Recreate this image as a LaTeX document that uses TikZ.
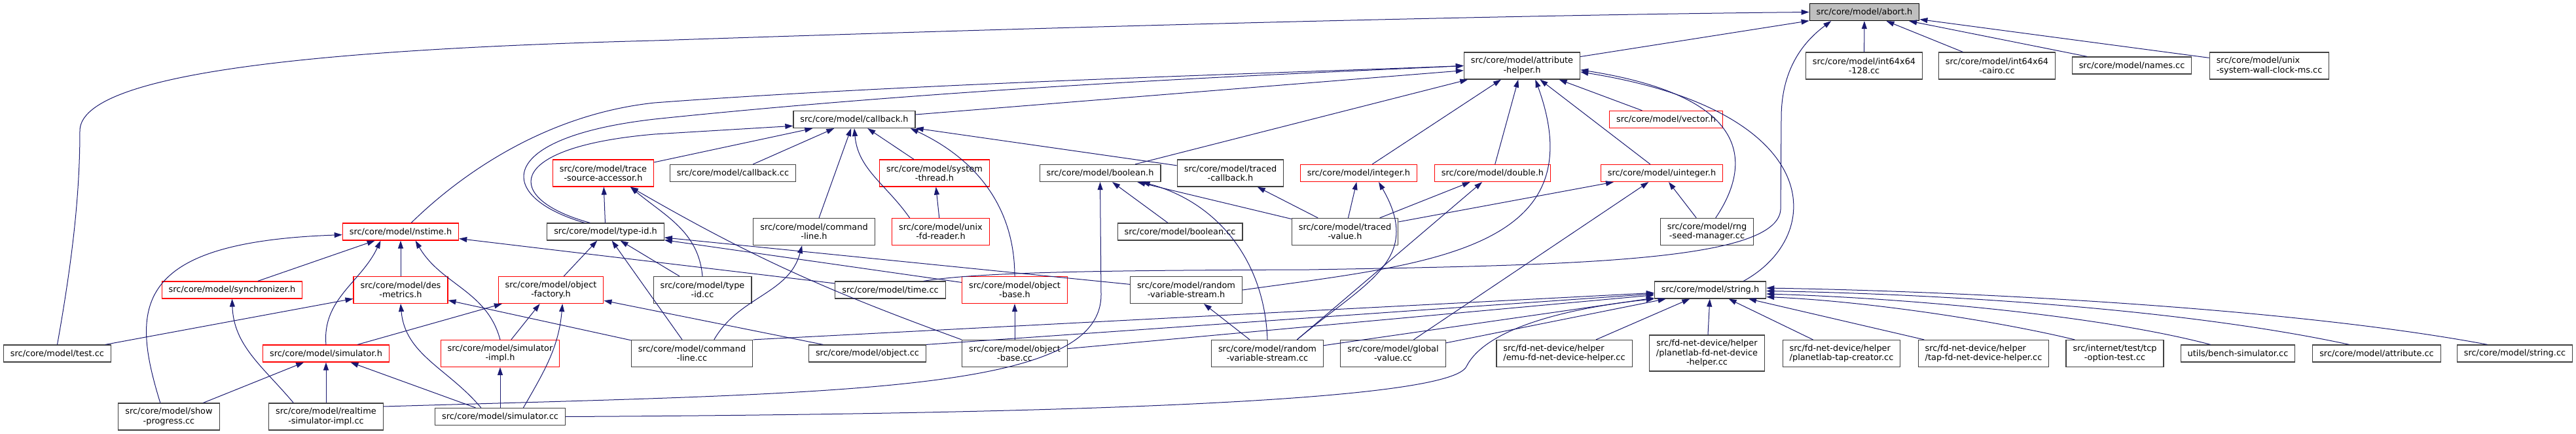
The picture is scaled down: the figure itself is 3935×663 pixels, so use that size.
\documentclass[tikz,border=0pt]{standalone}
\usepackage{fontspec}
\setmainfont{DejaVu Sans}
\usetikzlibrary{arrows.meta}
\definecolor{bleunuit}{HTML}{191970}
\definecolor{rouge}{HTML}{FF0000}
\definecolor{grisclair}{HTML}{BFBFBF}
\definecolor{grisfonce}{HTML}{404040}
\tikzset{
  fichier/.style={draw=grisfonce,line width=1.2pt,fill=white,align=center,
                  font=\fontsize{12.9}{14.3}\selectfont,inner xsep=10.5pt,inner ysep=0pt,minimum height=26pt},
  fleche/.style={-{Triangle[length=12pt,width=8pt]},line width=1pt,color=bleunuit},
}

\begin{document}
\begin{tikzpicture}[x=1pt,y=1pt,
  deux/.style={fichier,minimum height=41pt},
  trois/.style={fichier,minimum height=55pt},
  tronque/.style={draw=rouge},
  gauche/.style={align=left}]
  \useasboundingbox (0,0) rectangle (3935,-663);
  % niveau 0 et 1
  \node[fichier,fill=grisclair,draw=black] (abort) at (2848,-18.5) {src/core/model/abort.h};
  \node[deux] (attrhelper) at (2325,-100.5) {src/core/model/attribute\\-helper.h};
  \node[deux] (int128) at (2847.5,-100.5) {src/core/model/int64x64\\-128.cc};
  \node[deux] (cairo) at (3050.5,-100.5) {src/core/model/int64x64\\-cairo.cc};
  \node[fichier] (names) at (3256.5,-100) {src/core/model/names.cc};
  \node[deux,gauche] (wallclock) at (3466.5,-100.5) {src/core/model/unix\\-system-wall-clock-ms.cc};
  % niveau 2 et 3
  \node[fichier] (callback) at (1305,-182.5) {src/core/model/callback.h};
  \node[fichier,tronque] (vector) at (2545,-182.5) {src/core/model/vector.h};
  \node[deux,tronque] (traceacc) at (921.5,-264.5) {src/core/model/trace\\-source-accessor.h};
  \node[fichier] (callbackcc) at (1119.5,-264.5) {src/core/model/callback.cc};
  \node[deux,tronque] (systhread) at (1427.5,-264.5) {src/core/model/system\\-thread.h};
  \node[fichier] (boolean) at (1680.5,-264.5) {src/core/model/boolean.h};
  \node[deux] (tracedcb) at (1879.5,-264.5) {src/core/model/traced\\-callback.h};
  \node[fichier,tronque] (integer) at (2075.5,-264.5) {src/core/model/integer.h};
  \node[fichier,tronque] (double) at (2280,-264.5) {src/core/model/double.h};
  \node[fichier,tronque] (uinteger) at (2538.5,-264.5) {src/core/model/uinteger.h};
  % niveau 4
  \node[fichier,tronque] (nstime) at (612,-354) {src/core/model/nstime.h};
  \node[fichier] (typeid) at (925,-354) {src/core/model/type-id.h};
  \node[deux] (cmdlineh) at (1243.5,-354) {src/core/model/command\\-line.h};
  \node[deux,tronque] (unixfd) at (1437,-354) {src/core/model/unix\\-fd-reader.h};
  \node[fichier] (booleancc) at (1802.5,-354) {src/core/model/boolean.cc};
  \node[deux] (tracedval) at (2054.5,-354) {src/core/model/traced\\-value.h};
  \node[deux] (rngseed) at (2607.5,-354) {src/core/model/rng\\-seed-manager.cc};
  % niveau 5
  \node[fichier,tronque] (sync) at (354.5,-443) {src/core/model/synchronizer.h};
  \node[deux,tronque] (desmetrics) at (612,-443) {src/core/model/des\\-metrics.h};
  \node[deux,tronque] (objfactory) at (841.5,-443) {src/core/model/object\\-factory.h};
  \node[deux] (typeidcc) at (1073,-443) {src/core/model/type\\-id.cc};
  \node[fichier] (timecc) at (1360,-443) {src/core/model/time.cc};
  \node[deux,tronque] (objbaseh) at (1550,-443) {src/core/model/object\\-base.h};
  \node[deux] (rvsh) at (1812,-443) {src/core/model/random\\-variable-stream.h};
  \node[fichier] (stringh) at (2612.5,-443) {src/core/model/string.h};
  % niveau 6
  \node[fichier] (testcc) at (87.5,-540) {src/core/model/test.cc};
  \node[fichier,tronque] (simh) at (498,-540) {src/core/model/simulator.h};
  \node[deux,tronque] (simimplh) at (764,-540) {src/core/model/simulator\\-impl.h};
  \node[deux] (cmdlinecc) at (1057,-540) {src/core/model/command\\-line.cc};
  \node[fichier] (objectcc) at (1325,-540) {src/core/model/object.cc};
  \node[deux] (objbasecc) at (1550,-540) {src/core/model/object\\-base.cc};
  \node[deux] (rvscc) at (1936,-540) {src/core/model/random\\-variable-stream.cc};
  \node[deux] (globalcc) at (2128,-540) {src/core/model/global\\-value.cc};
  \node[deux,gauche] (emu) at (2389.5,-540) {src/fd-net-device/helper\\/emu-fd-net-device-helper.cc};
  \node[trois] (planetfd) at (2607.5,-539.5) {src/fd-net-device/helper\\/planetlab-fd-net-device\\-helper.cc};
  \node[deux,gauche] (planettap) at (2813,-540) {src/fd-net-device/helper\\/planetlab-tap-creator.cc};
  \node[deux,gauche] (tapfd) at (3030,-540) {src/fd-net-device/helper\\/tap-fd-net-device-helper.cc};
  \node[deux] (tcptest) at (3230.5,-540) {src/internet/test/tcp\\-option-test.cc};
  \node[fichier] (bench) at (3418.5,-540) {utils/bench-simulator.cc};
  \node[fichier] (attrcc) at (3630.5,-540) {src/core/model/attribute.cc};
  \node[fichier] (stringcc) at (3841.5,-540) {src/core/model/string.cc};
  % niveau 7
  \node[deux] (showprog) at (258,-636.5) {src/core/model/show\\-progress.cc};
  \node[deux] (rtsimcc) at (498,-636.5) {src/core/model/realtime\\-simulator-impl.cc};
  \node[fichier] (simcc) at (764,-636.5) {src/core/model/simulator.cc};

  % liens droits
  \foreach \a/\b in {attrhelper/abort,int128/abort,cairo/abort,names/abort,wallclock/abort,
      callback/attrhelper,boolean/attrhelper,integer/attrhelper,double/attrhelper,
      uinteger/attrhelper,vector/attrhelper,
      traceacc/callback,callbackcc/callback,cmdlineh/callback,systhread/callback,tracedcb/callback,
      typeid/traceacc,unixfd/systhread,booleancc/boolean,tracedval/boolean,
      tracedval/tracedcb,tracedval/integer,tracedval/double,tracedval/uinteger,
      rngseed/uinteger,globalcc/uinteger,timecc/nstime,sync/nstime,desmetrics/nstime,
      objfactory/typeid,cmdlinecc/typeid,typeidcc/typeid,objbaseh/typeid,rvsh/typeid,
      testcc/desmetrics,cmdlinecc/desmetrics,simh/objfactory,simimplh/objfactory,objectcc/objfactory,
      showprog/simh,rtsimcc/simh,simcc/simh,simcc/simimplh,objbasecc/objbaseh,rvscc/rvsh,
      objbasecc/stringh,rvscc/stringh,globalcc/stringh,emu/stringh,planetfd/stringh,
      planettap/stringh,tapfd/stringh}
    \draw[fleche] (\a) -- (\b);
  \draw[fleche] (cmdlinecc.north east) -- (stringh);
  \draw[fleche] (objectcc.north east) -- (stringh);
  \draw[fleche] (rvscc.25) -- (double);

  % liens courbes
  \draw[fleche] (testcc.north) .. controls (110,-400) and (122,-300) .. (122,-200)
    .. controls (122,-110) and (500,-75) .. (1000,-62) .. controls (1800,-35) and (2400,-22) .. (abort.west);
  \draw[fleche] (timecc.15) .. controls (1500,-415) and (1700,-413) .. (2000,-412)
    .. controls (2400,-405) and (2715,-400) .. (2720,-320) -- (2721,-180)
    .. controls (2721,-100) and (2760,-60) .. (abort.195);
  \draw[fleche] (nstime.40) .. controls (700,-270) and (830,-175) .. (1000,-157)
    .. controls (1400,-127) and (2000,-110) .. (attrhelper.west);
  \draw[fleche] (typeid.157) .. controls (755,-300) and (755,-210) .. (1000,-182)
    .. controls (1500,-130) and (2000,-112) .. (attrhelper.west);
  \draw[fleche] (typeid.150) .. controls (770,-305) and (765,-225) .. (1000,-205) -- (callback.186);
  \draw[fleche] (showprog.122) .. controls (200,-470) and (200,-370) .. (nstime.183);
  \draw[fleche] (simh.north) to[out=95,in=-115] (nstime.204);
  \draw[fleche] (simimplh.north) to[out=105,in=-60] (nstime.-31);
  \draw[fleche] (rtsimcc.157) to[out=130,in=-88] (sync.south);
  \draw[fleche] (simcc.155) to[out=130,in=-85] (desmetrics.south);
  \draw[fleche] (simcc.21) to[out=60,in=-95] (objfactory.-50);
  \draw[fleche] (cmdlinecc.32) to[out=60,in=-105] (cmdlineh.-131);
  \draw[fleche] (typeidcc.north) to[out=95,in=-40] (traceacc.-27);
  \draw[fleche] (objbasecc.north west) to[out=160,in=-30] (traceacc.-27);
  \draw[fleche] (unixfd.156) to[out=125,in=-85] (callback.south);
  \draw[fleche] (objbaseh.north) to[out=90,in=-25] (callback.-9);
  \draw[fleche] (rvscc.north) to[out=92,in=-15] (boolean.-12);
  \draw[fleche] (rtsimcc.10) .. controls (1300,-600) and (1682,-600) .. (1682,-450) -- (boolean.south);
  \draw[fleche] (simcc.east) .. controls (1700,-632) and (2215,-610) .. (2240,-560)
    .. controls (2270,-500) and (2400,-470) .. (stringh.south west);
  \draw[fleche] (rvsh.east) to[out=8,in=-70,looseness=1.3] (attrhelper.-46);
  \draw[fleche] (rvscc.25) to[out=40,in=-60,looseness=1.3] (integer.-24);
  \draw[fleche] (stringh.15) .. controls (2790,-360) and (2790,-170) .. (attrhelper.-6);
  \draw[fleche] (rngseed.58) .. controls (2670,-260) and (2690,-150) .. (attrhelper.-4);
  \draw[fleche] (stringcc.162) .. controls (3500,-470) and (3000,-445) .. (stringh.2);
  \draw[fleche] (attrcc.162) .. controls (3350,-475) and (3000,-450) .. (stringh.-1);
  \draw[fleche] (bench.162) .. controls (3200,-480) and (2900,-455) .. (stringh.-4);
  \draw[fleche] (tcptest.161) .. controls (3050,-490) and (2850,-460) .. (stringh.-7);
\end{tikzpicture}
\end{document}
